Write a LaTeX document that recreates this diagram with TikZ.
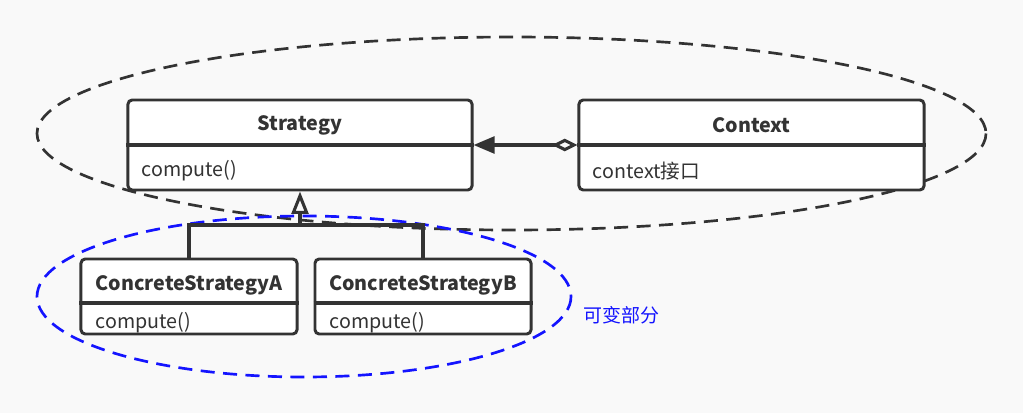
\documentclass[tikz,border=0pt]{standalone}
\usepackage{fontspec}
\setmainfont{Noto Sans CJK SC}
\usetikzlibrary{arrows.meta,positioning,calc}
\definecolor{umlgray}{RGB}{51,51,51}
\definecolor{bggray}{RGB}{249,249,249}
\definecolor{varblue}{RGB}{20,20,255}

\tikzset{
  umlbox/.style={draw=umlgray, line width=2.1pt, rounded corners=3pt, fill=white, inner sep=0pt},
  umltitle/.style={inner sep=0pt, font=\bfseries\fontsize{14}{16}\selectfont, text=umlgray},
  umlop/.style={inner sep=0pt, anchor=west, font=\fontsize{14}{16}\selectfont, text=umlgray},
  umlline/.style={draw=umlgray, line width=2.2pt},
  groupline/.style={line width=1.9pt, dash pattern=on 10pt off 6pt},
}

\begin{document}
\begin{tikzpicture}[x=0.025cm,y=-0.025cm]
  \fill[bggray] (0,0) rectangle (1023,413);

  % groups
  \draw[groupline, umlgray] (511.5,133.5) ellipse [x radius=474.5, y radius=96.5];
  \draw[groupline, varblue] (304,296.5) ellipse [x radius=267, y radius=80.5];
  \node[anchor=west, inner sep=0pt, text=varblue, font=\fontsize{13.5}{16}\selectfont] (varlabel) at (583,315) {可变部分};

  % classes
  \node[umlbox, minimum width=8.6cm, minimum height=2.25cm] (strategy) at (300,145) {};
  \node[umlbox, minimum width=8.625cm, minimum height=2.25cm] (context) at (751.5,145) {};
  \node[umlbox, minimum width=5.4cm, minimum height=1.875cm] (csa) at (189,296.5) {};
  \node[umlbox, minimum width=5.4cm, minimum height=1.875cm] (csb) at (423,296.5) {};

  \draw[umlline] (strategy.west) -- (strategy.east);
  \draw[umlline] (context.west) -- (context.east);
  \draw[umlline] ($(csa.north west)+(0,45.5)$) -- ($(csa.north east)+(0,45.5)$);
  \draw[umlline] ($(csb.north west)+(0,45.5)$) -- ($(csb.north east)+(0,45.5)$);

  \node[umltitle] (strategytitle) at ($(strategy.north)+(0,27)$) {Strategy};
  \node[umltitle] (contexttitle) at ($(context.north)+(0,27)$) {Context};
  \node[umltitle] (csatitle) at ($(csa.north)+(0,28)$) {ConcreteStrategyA};
  \node[umltitle] (csbtitle) at ($(csb.north)+(0,28)$) {ConcreteStrategyB};

  \node[umlop] (strategyop) at ($(strategy.west)+(15,26)$) {compute()};
  \node[umlop] (contextop) at ($(context.west)+(15,26)$) {context接口};
  \node[umlop] (csaop) at ($(csa.west)+(16,26)$) {compute()};
  \node[umlop] (csbop) at ($(csb.west)+(16,26)$) {compute()};

  % relations
  \draw[umlline, {Diamond[open, length=18pt, width=9pt]}-{Triangle[length=15pt, width=12pt]}] (context.west) -- (strategy.east);
  \coordinate (branch) at (300,225);
  \draw[umlline] (csa.north) -- (csa.north |- branch) -| (csb.north);
  \draw[umlline, -{Triangle[open, length=16pt, width=12pt]}] (branch) -- (strategy.south);
\end{tikzpicture}
\end{document}
